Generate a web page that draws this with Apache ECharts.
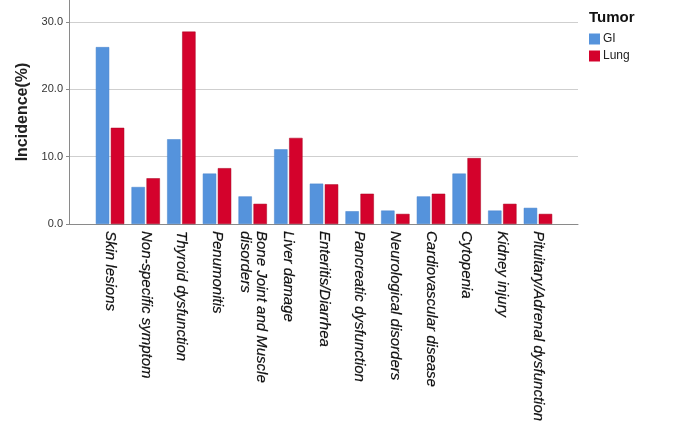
<!DOCTYPE html>
<html>
<head>
<meta charset="utf-8">
<title>Incidence by tumor</title>
<script src="https://cdn.jsdelivr.net/npm/echarts@6/dist/echarts.min.js"></script>
<style>
    html, body { margin: 0; padding: 0; background: #fff; }
    #chart_incidence { width: 700px; height: 443px; }
</style>
</head>
<body>
<div id="chart_incidence"></div>
<script>
// 数据
var categories = ['Skin lesions', 'Non-specific symptom', 'Thyroid dysfunction', 'Penumonitis',
    'Bone Joint and Muscle\ndisorders', 'Liver damage', 'Enteritis/Diarrhea', 'Pancreatic dysfunction',
    'Neurological disorders', 'Cardiovascular disease', 'Cytopenia', 'Kidney injury',
    'Pituitary/Adrenal dysfunction'];
var gi_values = [26.3, 5.5, 12.6, 7.5, 4.1, 11.1, 6.0, 1.9, 2.0, 4.1, 7.5, 2.0, 2.4];
var lung_values = [14.3, 6.8, 28.6, 8.3, 3.0, 12.8, 5.9, 4.5, 1.5, 4.5, 9.8, 3.0, 1.5];
var y_ticks = [0, 10, 20, 30];
var y_max = 33.3;

var FONT = 'Liberation Sans, Arial, sans-serif';

var myChart = echarts.init(document.getElementById('chart_incidence'));
var option = {
    animation: false,
    textStyle: { fontFamily: FONT },
    title: {
        text: 'Tumor',
        left: 584,
        top: 5,
        textStyle: { fontSize: 15, fontWeight: 'bold', color: '#111', fontFamily: FONT }
    },
    legend: {
        orient: 'vertical',
        left: 584,
        top: 28,
        itemWidth: 11,
        itemHeight: 11,
        itemGap: 5,
        icon: 'rect',
        itemStyle: { borderWidth: 0 },
        textStyle: { fontSize: 12, color: '#222', padding: [0, 0, 0, -2] },
        data: ['GI', 'Lung']
    },
    grid: [
        // 坐标轴和网格线
        { left: 69, right: 122, top: 0, bottom: 219 },
        // 柱子
        { left: 92.2, right: 144.2, top: 0, bottom: 219 }
    ],
    xAxis: [
        {
            gridIndex: 0,
            type: 'value',
            min: 0,
            max: 1,
            axisLine: { show: true, lineStyle: { color: '#8a8a8a', width: 1 } },
            axisTick: { show: false },
            axisLabel: { show: false },
            splitLine: { show: false }
        },
        {
            gridIndex: 1,
            type: 'category',
            data: categories,
            axisLine: { show: false },
            axisTick: { show: false },
            axisLabel: {
                interval: 0,
                rotate: -90,
                margin: 7,
                fontSize: 15,
                fontStyle: 'italic',
                color: '#111',
                textBorderColor: '#111',
                textBorderWidth: 0.2,
                lineHeight: 16
            }
        }
    ],
    yAxis: [
        {
            gridIndex: 0,
            type: 'value',
            min: 0,
            max: y_max,
            interval: 10,
            name: 'Incidence(%)',
            nameLocation: 'middle',
            nameGap: 34,
            nameTextStyle: { fontSize: 16, fontWeight: 'bold', color: '#222' },
            axisLine: { show: true, lineStyle: { color: '#8a8a8a', width: 1 } },
            axisTick: { show: true, length: 3, lineStyle: { color: '#8a8a8a' } },
            axisLabel: {
                fontSize: 11,
                color: '#333',
                margin: 6,
                showMaxLabel: false,
                formatter: function(v) {
                    return y_ticks.indexOf(v) >= 0 ? v.toFixed(1) : '';
                }
            },
            splitLine: {
                show: true,
                showMinLine: false,
                showMaxLine: false,
                lineStyle: { color: '#cfcfcf', width: 1 }
            }
        },
        {
            gridIndex: 1,
            type: 'value',
            min: 0,
            max: y_max,
            show: false
        }
    ],
    series: [
        {
            name: 'GI',
            type: 'bar',
            xAxisIndex: 1,
            yAxisIndex: 1,
            barWidth: 13.4,
            barGap: '12%',
            itemStyle: { color: '#5593dc', borderColor: '#4782cc', borderWidth: 0.5 },
            data: gi_values
        },
        {
            name: 'Lung',
            type: 'bar',
            xAxisIndex: 1,
            yAxisIndex: 1,
            barWidth: 13.4,
            barGap: '12%',
            itemStyle: { color: '#d4022c', borderColor: '#a8001f', borderWidth: 0.5 },
            data: lung_values
        }
    ]
};
myChart.setOption(option);
</script>
</body>
</html>
